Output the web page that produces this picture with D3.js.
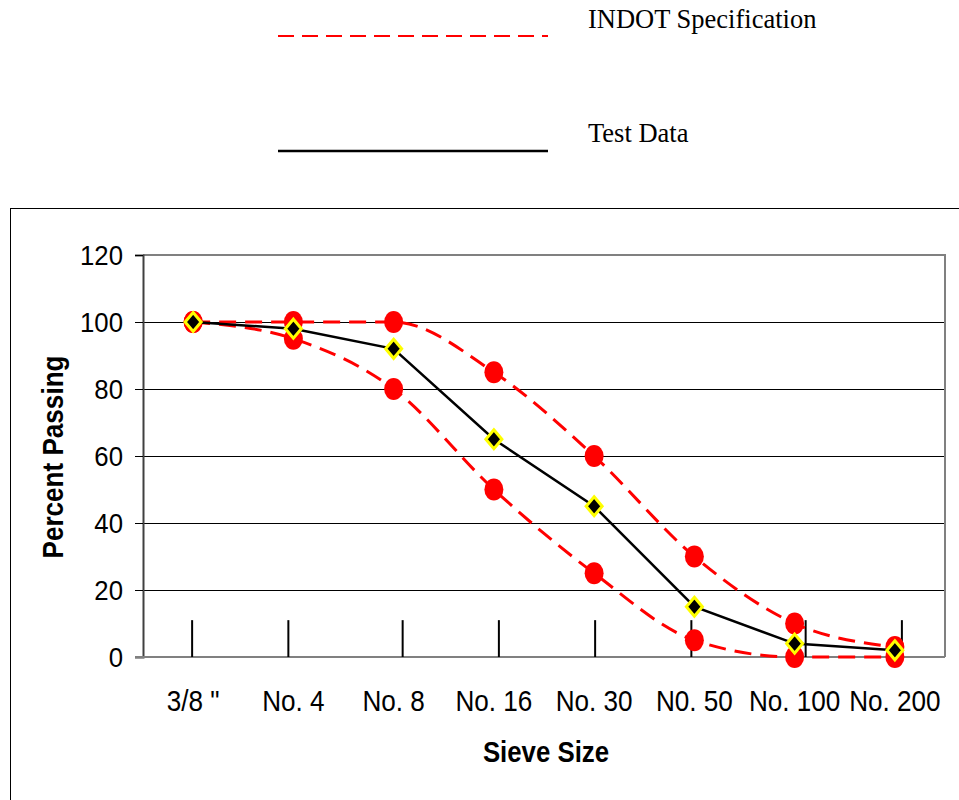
<!DOCTYPE html>
<html>
<head>
<meta charset="utf-8">
<script src="https://cdn.jsdelivr.net/npm/d3@7"></script>
<style>
  html, body { margin: 0; padding: 0; background: #fff; }
  svg { display: block; }
</style>
</head>
<body>
<svg id="chart" width="959" height="800"></svg>
<script>
// Sieve sizes along the x axis
const sieves = ["3/8 \"", "No. 4", "No. 8", "No. 16", "No. 30", "N0. 50", "No. 100", "No. 200"];
// Specification band (upper and lower limits), percent passing
const specUpper = [100, 100, 100, 85, 60, 30, 10, 3];
const specLower = [100, 95, 80, 50, 25, 5, 0, 0];
// Measured gradation
const testData = [100, 98, 92, 65, 45, 15, 4, 2];
// Y axis ticks
const yTicks = [0, 20, 40, 60, 80, 100, 120];
// Vertical marker ticks along the base, in category units (0 = left edge)
const baseMarks = [0.49, 1.45, 2.59, 3.55, 4.51, 5.47, 6.61, 7.57];

const svg = d3.select("#chart");
const plotL = 143, plotR = 945, plotT = 255, plotB = 657;
const sans = "'Liberation Sans', Arial, sans-serif";
const serif = "'Liberation Serif', 'Times New Roman', serif";

const x = d3.scaleBand().domain(sieves).range([plotL, plotR]);
const xc = d => x(d) + x.bandwidth() / 2;
const xu = d3.scaleLinear().domain([0, sieves.length]).range([plotL, plotR]);
const y = d3.scaleLinear().domain([0, 120]).range([plotB, plotT]);

// Outer chart frame
svg.append("rect").attr("x", 10.5).attr("y", 208.5).attr("width", 960).attr("height", 600)
  .attr("fill", "none").attr("stroke", "#000").attr("stroke-width", 1);

// Legend
svg.append("line").attr("x1", 278).attr("x2", 548).attr("y1", 36).attr("y2", 36)
  .attr("stroke", "#ff0000").attr("stroke-width", 2).attr("stroke-dasharray", "16,8");
svg.append("text").attr("x", 588).attr("y", 28).text("INDOT Specification")
  .attr("font-family", serif).attr("font-size", 26.5);
svg.append("line").attr("x1", 278).attr("x2", 548).attr("y1", 151).attr("y2", 151)
  .attr("stroke", "#000").attr("stroke-width", 2.5);
svg.append("text").attr("x", 588).attr("y", 142).text("Test Data")
  .attr("font-family", serif).attr("font-size", 26.5);

// Gridlines
svg.append("g").selectAll("line").data(yTicks.filter(v => v > 0 && v < 120)).join("line")
  .attr("x1", plotL).attr("x2", plotR)
  .attr("y1", d => Math.round(y(d)) + 0.5).attr("y2", d => Math.round(y(d)) + 0.5)
  .attr("stroke", "#000").attr("stroke-width", 1);

// Plot area border (top and right)
svg.append("path")
  .attr("d", `M${plotL},${y(120)}H${plotR}V${plotB}`)
  .attr("fill", "none").attr("stroke", "#808080").attr("stroke-width", 2);

// Y axis
const ySx = 0.92;
const yAxis = svg.append("g").attr("transform", `translate(${plotL},0)`)
  .call(d3.axisLeft(y).tickValues(yTicks).tickSize(8).tickPadding(12));
yAxis.select(".domain").attr("stroke", "#404040").attr("stroke-width", 2);
yAxis.selectAll(".tick line").attr("stroke", "#000");
yAxis.selectAll(".tick text")
  .attr("font-family", sans).attr("font-size", 28).attr("fill", "#000")
  .attr("x", -20 / ySx).attr("dy", "0.35em")
  .attr("transform", `scale(${ySx},1)`);

// X axis
const xSx = 0.87;
const xAxis = svg.append("g").attr("transform", `translate(0,${plotB})`)
  .call(d3.axisBottom(x).tickSize(0).tickPadding(0));
xAxis.select(".domain").attr("stroke", "#808080").attr("stroke-width", 2)
  .attr("d", `M${plotL - 8},0H${plotR}`);
xAxis.selectAll(".tick text")
  .attr("font-family", sans).attr("font-size", 30).attr("fill", "#000")
  .attr("y", 54).attr("dy", null)
  .attr("transform", `scale(${xSx},1)`);

// Base marker ticks
svg.append("g").selectAll("line").data(baseMarks).join("line")
  .attr("x1", d => xu(d)).attr("x2", d => xu(d))
  .attr("y1", y(11)).attr("y2", plotB)
  .attr("stroke", "#000").attr("stroke-width", 2);

// Axis titles
svg.append("text").attr("transform", `translate(546,762) scale(0.89,1)`)
  .attr("text-anchor", "middle")
  .attr("font-family", sans).attr("font-weight", "bold")
  .attr("font-size", 29).text("Sieve Size");
svg.append("text").attr("transform", `translate(63,457) rotate(-90) scale(0.9,1)`)
  .attr("text-anchor", "middle")
  .attr("font-family", sans).attr("font-weight", "bold")
  .attr("font-size", 29).text("Percent Passing");

// Specification limits: smoothed dashed red lines with round markers
const smooth = d3.line().x((d, i) => xc(sieves[i])).y(d => y(d)).curve(d3.curveMonotoneX);
[specUpper, specLower].forEach(series => {
  svg.append("path").datum(series).attr("d", smooth)
    .attr("fill", "none").attr("stroke", "#ff0000").attr("stroke-width", 3)
    .attr("stroke-dasharray", "17,9");
});
[specUpper, specLower].forEach(series => {
  svg.append("g").selectAll("ellipse").data(series).join("ellipse")
    .attr("cx", (d, i) => xc(sieves[i])).attr("cy", d => y(d))
    .attr("rx", 9.5).attr("ry", 11)
    .attr("fill", "#ff0000");
});

// Test data: straight black line with diamond markers
const straight = d3.line().x((d, i) => xc(sieves[i])).y(d => y(d));
svg.append("path").datum(testData).attr("d", straight)
  .attr("fill", "none").attr("stroke", "#000").attr("stroke-width", 2.5);
svg.append("g").selectAll("path").data(testData).join("path")
  .attr("transform", (d, i) => `translate(${xc(sieves[i])},${y(d)})`)
  .attr("d", "M0,-9.5L8,0L0,9.5L-8,0Z")
  .attr("fill", "#000").attr("stroke", "#ffff00").attr("stroke-width", 3);
</script>
</body>
</html>
